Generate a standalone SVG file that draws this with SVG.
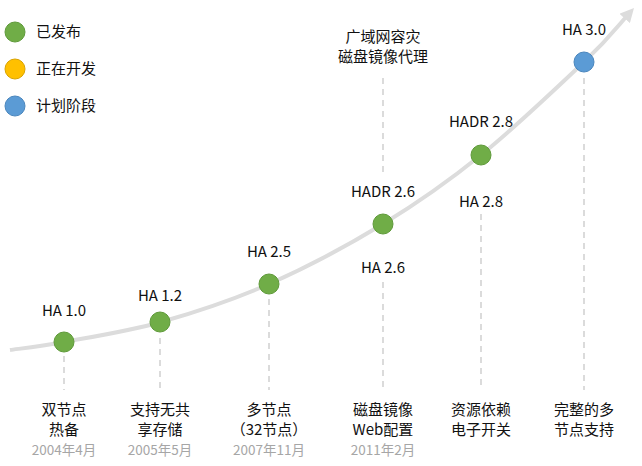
<svg xmlns="http://www.w3.org/2000/svg" width="642" height="466" viewBox="0 0 642 466">
<style>
text{font-family:"Noto Sans CJK SC","Noto Sans",sans-serif;font-size:15px;fill:#111;text-anchor:middle}
.lg{text-anchor:start}
.date{fill:#a6a6a6;font-size:13.5px}
.g{fill:#70ad47;stroke:#5f9a3a;stroke-width:1}
.y{fill:#ffc000;stroke:#d9a300;stroke-width:1}
.b{fill:#5b9bd5;stroke:#4a86bd;stroke-width:1}
.dash{stroke:#d0d0d0;stroke-width:1.5;stroke-dasharray:6,5;fill:none}
</style>
<defs>
<marker id="ah" markerUnits="userSpaceOnUse" markerWidth="16" markerHeight="14" refX="2" refY="7" orient="auto">
<path d="M0,0 L14,7 L0,14 Z" fill="#dcdcdc"/>
</marker>
</defs>
<g id="legend">
<circle class="g" cx="15" cy="32" r="10"/><text class="lg" x="36" y="37">已发布</text>
<circle class="y" cx="15" cy="69" r="10"/><text class="lg" x="36" y="74">正在开发</text>
<circle class="b" cx="15" cy="106" r="10"/><text class="lg" x="36" y="111">计划阶段</text>
</g>
<g id="connectors">
<path d="M10,350 C19,348.7 38.8,346.7 64,342 C89.2,337.3 126.8,331.7 161,322 C195.2,312.3 232,300.3 269,284 C306,267.7 347.7,245.5 383,224 C418.3,202.5 447.5,182 481,155 C514.5,128 559.2,85.5 584,62 C608.8,38.5 618,26 626,17" fill="none" stroke="#dcdcdc" stroke-width="4" marker-end="url(#ah)"/>
<line class="dash" x1="64" y1="356" x2="64" y2="390"/>
<line class="dash" x1="160" y1="338" x2="160" y2="390"/>
<line class="dash" x1="269" y1="299" x2="269" y2="390"/>
<line class="dash" x1="383" y1="78" x2="383" y2="172"/>
<line class="dash" x1="383" y1="282" x2="383" y2="390"/>
<line class="dash" x1="481" y1="214" x2="481" y2="390"/>
<line class="dash" x1="584" y1="78" x2="584" y2="390"/>
</g>
<g id="n1">
<circle class="g" cx="64" cy="342" r="10"/>
<text x="64" y="316">HA 1.0</text>
<text x="64" y="415">双节点</text><text x="64" y="435">热备</text>
<text class="date" x="64" y="455">2004年4月</text>
</g>
<g id="n2">
<circle class="g" cx="160" cy="322" r="10"/>
<text x="160" y="301">HA 1.2</text>
<text x="160" y="415">支持无共</text><text x="160" y="435">享存储</text>
<text class="date" x="160" y="455">2005年5月</text>
</g>
<g id="n3">
<circle class="g" cx="269" cy="284" r="10"/>
<text x="269" y="257">HA 2.5</text>
<text x="269" y="415">多节点</text><text x="269" y="435">（32节点）</text>
<text class="date" x="269" y="455">2007年11月</text>
</g>
<g id="n4">
<circle class="g" cx="383" cy="224" r="10"/>
<text x="383" y="197">HADR 2.6</text>
<text x="383" y="273">HA 2.6</text>
<text x="383" y="42">广域网容灾</text><text x="383" y="62">磁盘镜像代理</text>
<text x="383" y="415">磁盘镜像</text><text x="383" y="435">Web配置</text>
<text class="date" x="383" y="455">2011年2月</text>
</g>
<g id="n5">
<circle class="g" cx="481" cy="155" r="10"/>
<text x="481" y="127">HADR 2.8</text>
<text x="481" y="207">HA 2.8</text>
<text x="481" y="415">资源依赖</text><text x="481" y="435">电子开关</text>
</g>
<g id="n6">
<circle class="b" cx="584" cy="62" r="10"/>
<text x="584" y="35">HA 3.0</text>
<text x="584" y="415">完整的多</text><text x="584" y="435">节点支持</text>
</g>
</svg>
